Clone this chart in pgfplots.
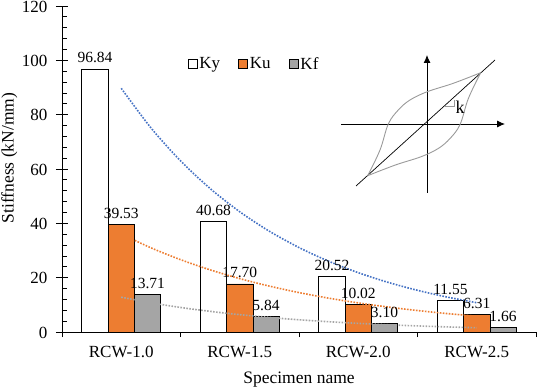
\documentclass[border=0pt]{standalone}
\usepackage{fontspec}
\setmainfont{Liberation Serif}
\usepackage{pgfplots}
\pgfplotsset{compat=1.18}
\usetikzlibrary{arrows.meta}
\definecolor{kuorange}{HTML}{ED7D31}
\definecolor{kfgray}{HTML}{A5A5A5}
\definecolor{tblue}{HTML}{4472C4}
\definecolor{tgray}{HTML}{A5A5A5}
\definecolor{loopgray}{HTML}{9A9A9A}
\begin{document}
\begin{tikzpicture}
\useasboundingbox (-62pt,-56pt) rectangle (476pt,332pt);
\begin{axis}[
  at={(0pt,0pt)}, anchor=south west,
  scale only axis, width=474pt, height=326pt,
  xmin=-0.5, xmax=3.5, ymin=0, ymax=120,
  axis lines*=left,
  axis line style={line width=0.8pt},
  clip=false,
  xtick={0,1,2,3},
  xticklabels={RCW-1.0,RCW-1.5,RCW-2.0,RCW-2.5},
  minor xtick={-0.5,0.5,1.5,2.5,3.5},
  ytick={0,20,...,120},
  minor y tick num=4,
  tick align=inside,
  major tick length=12pt,
  minor tick length=5pt,
  tick style={line width=0.8pt, black},
  major x tick style={draw=none},
  every minor x tick/.append style={yshift=-5pt},
  every major y tick/.append style={xshift=-6pt},
  tick label style={font=\fontsize{17}{20}\selectfont},
  /pgf/number format/assume math mode=true,
  yticklabel style={xshift=-11pt, yshift=-0.5pt},
  xticklabel style={yshift=-11pt},
  xlabel={Specimen name},
  ylabel={Stiffness (kN/mm)},
  label style={font=\fontsize{17.5}{20}\selectfont},
  xlabel style={at={(axis description cs:0.5,0)}, anchor=center, yshift=-48pt},
  ylabel style={at={(axis description cs:-0.111,0.534)}, anchor=center},
  legend columns=3,
  legend style={draw=none, fill=none, at={(axis description cs:0.405,0.822)}, anchor=center,
    font=\fontsize{17}{20}\selectfont,
    /tikz/every even column/.append style={column sep=16pt}},
  every node near coord/.append style={font=\fontsize{15.5}{18}\selectfont, text=black, yshift=2pt},
]
\addplot[ybar, bar width=26.3pt, bar shift=-26.3pt, fill=white, draw=black, line width=0.8pt,
  nodes near coords, point meta=explicit symbolic,
  every node near coord/.append style={xshift=-26.3pt},
  legend image code/.code={\draw[fill=white,draw=black,line width=0.8pt] (0pt,-4.5pt) rectangle (9pt,4.5pt);}]
  coordinates {(0,96.84) [96.84] (1,40.68) [40.68] (2,20.52) [20.52] (3,11.55) [11.55]};
\addlegendentry{Ky}
\addplot[ybar, bar width=26.3pt, bar shift=0pt, fill=kuorange, draw=black, line width=0.8pt,
  nodes near coords, point meta=explicit symbolic,
  legend image code/.code={\draw[fill=kuorange,draw=black,line width=0.8pt] (0pt,-4.5pt) rectangle (9pt,4.5pt);}]
  coordinates {(0,39.53) [39.53] (1,17.70) [17.70] (2,10.02) [10.02] (3,6.31) [6.31]};
\addlegendentry{Ku}
\addplot[ybar, bar width=26.3pt, bar shift=26.3pt, fill=kfgray, draw=black, line width=0.8pt,
  nodes near coords, point meta=explicit symbolic,
  every node near coord/.append style={xshift=26.3pt},
  legend image code/.code={\draw[fill=kfgray,draw=black,line width=0.8pt] (0pt,-4.5pt) rectangle (9pt,4.5pt);}]
  coordinates {(0,13.71) [13.71] (1,5.84) [5.84] (2,3.10) [3.10] (3,1.66) [1.66]};
\addlegendentry{Kf}
% exponential trend lines
\addplot[smooth, tblue, line width=1.6pt, dash pattern=on 1.6pt off 1.4pt, forget plot] coordinates {
 (0,89.70) (0.25,75.18) (0.5,63.01) (0.75,52.81) (1,44.26) (1.25,37.09) (1.5,31.09)
 (1.75,26.06) (2,21.84) (2.25,18.30) (2.5,15.34) (2.75,12.86) (3,10.78)};
\addplot[smooth, kuorange, line width=1.6pt, dash pattern=on 1.6pt off 1.4pt, forget plot] coordinates {
 (0,36.08) (0.25,31.00) (0.5,26.63) (0.75,22.88) (1,19.65) (1.25,16.89) (1.5,14.51)
 (1.75,12.46) (2,10.71) (2.25,9.20) (2.5,7.90) (2.75,6.79) (3,5.83)};
\addplot[smooth, tgray, line width=1.6pt, dash pattern=on 1.6pt off 1.4pt, forget plot] coordinates {
 (0,12.81) (0.25,10.76) (0.5,9.04) (0.75,7.60) (1,6.38) (1.25,5.36) (1.5,4.50)
 (1.75,3.78) (2,3.18) (2.25,2.67) (2.5,2.24) (2.75,1.88) (3,1.58)};
\end{axis}
% inset schematic of hysteresis loop
\draw[line width=0.9pt, -{Latex[length=8pt,width=7pt]}] (279pt,208pt) -- (443pt,208pt);
\draw[line width=0.9pt, -{Latex[length=8pt,width=7pt]}] (365pt,139pt) -- (365pt,277pt);
\draw[line width=0.7pt] (294pt,146pt) -- (433pt,272pt);
\draw[loopgray, line width=0.9pt] plot[smooth, tension=0.6] coordinates {
 (305.7pt,156.3pt) (318pt,182pt) (326.3pt,208pt) (336.3pt,222pt) (348pt,232pt)
 (365.3pt,240.3pt) (391.3pt,248.7pt) (418.7pt,259.3pt)};
\draw[loopgray, line width=0.9pt] plot[smooth, tension=0.6] coordinates {
 (418.7pt,259.3pt) (406.4pt,233.6pt) (398.1pt,207.6pt) (388.1pt,193.6pt) (376.4pt,183.6pt)
 (359.1pt,175.3pt) (333.1pt,166.9pt) (305.7pt,156.3pt)};
\draw[loopgray, line width=0.7pt] (383pt,225.3pt) -- (392pt,225.3pt) -- (392pt,232pt);
\node[font=\fontsize{18}{20}\selectfont, inner sep=0pt] at (398pt,225pt) {k};
\end{tikzpicture}
\end{document}
